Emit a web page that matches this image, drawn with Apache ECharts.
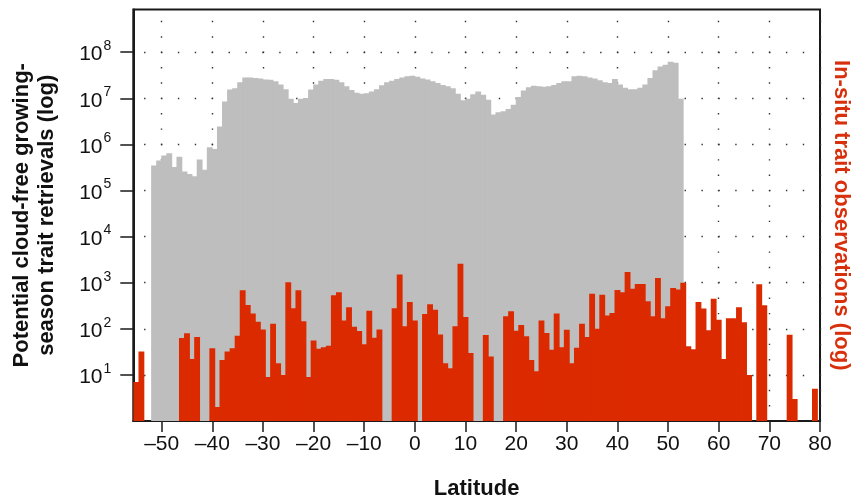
<!DOCTYPE html>
<html><head><meta charset="utf-8">
<script src="https://cdn.jsdelivr.net/npm/echarts@6/dist/echarts.min.js"></script>
<style>html,body{margin:0;padding:0;background:#fff}#c{width:852px;height:499px}</style>
</head><body><div id="c"></div>
<script>
// Potential cloud-free retrievals: 1-degree bins, lower edge latitude
const grayLat = [-52,-51,-50,-49,-48,-47,-46,-45,-44,-43,-42,-41,-40,-39,-38,-37,-36,-35,-34,-33,-32,-31,-30,-29,-28,-27,-26,-25,-24,-23,-22,-21,-20,-19,-18,-17,-16,-15,-14,-13,-12,-11,-10,-9,-8,-7,-6,-5,-4,-3,-2,-1,0,1,2,3,4,5,6,7,8,9,10,11,12,13,14,15,16,17,18,19,20,21,22,23,24,25,26,27,28,29,30,31,32,33,34,35,36,37,38,39,40,41,42,43,44,45,46,47,48,49,50,51,52];
const grayCount = [347000,447000,575000,646000,324000,537000,257000,229000,204000,468000,282000,871000,794000,2450000,8510000,15500000,16600000,22400000,28200000,28200000,27500000,26900000,25700000,25100000,23400000,20000000,15800000,9800000,7900000,9800000,10200000,15500000,20000000,24000000,26300000,26300000,25100000,22400000,18200000,15100000,13200000,12600000,12900000,14100000,15800000,19100000,22400000,24000000,26300000,28200000,30200000,30900000,
29500000,26900000,25700000,23400000,21400000,19500000,18200000,16600000,12600000,9100000,9800000,12300000,14100000,12000000,9300000,4470000,5010000,5250000,5890000,7240000,10700000,14800000,17400000,18600000,18200000,17800000,18200000,19500000,21400000,23400000,23400000,30200000,30900000,30200000,28200000,26900000,24500000,22400000,21400000,26300000,20000000,17000000,15800000,15800000,17000000,20000000,27500000,40700000,49000000,53700000,61700000,58900000,9800000];
// In-situ observations: 1-degree bins, centre latitude (null = none)
const redLat = [];
for (let l = -55; l <= 79; l++) redLat.push(l);
const redCount = [7,32,null,null,null,null,null,null,null,63,80,22,66,null,null,38,2,21,32,38,71,683,328,216,143,96,9,129,18,10,1018,278,683,145,9,56,37,40,43,532,617,152,292,111,90,46,247,64,97,null,null,278,1515,113,380,
152,null,210,339,260,75,18,14,113,2570,180,30,null,null,73,25,null,null,186,240,91,121,69,21,12,152,81,35,214,40,95,18,39,129,66,575,100,550,195,219,692,617,1700,741,933,933,398,186,1259,170,309,767,708,1000,42,36,380,275,93,447,158,22,170,170,295,138,10,null,923,324,null,null,null,null,74,3,null,null,null,5];
const xTicks = [-50,-40,-30,-20,-10,0,10,20,30,40,50,60,70,80];
const yTicks = [10,100,1000,10000,100000,1000000,10000000,100000000];

const FONT = "'Liberation Sans', Arial, Helvetica, sans-serif";
const GRAY = '#bebebe';
const RED = '#dc2a00';

const grayData = grayLat.map((l, i) => [l, grayCount[i]]);
const redData = [];
redLat.forEach((l, i) => { if (redCount[i] != null) redData.push([l, redCount[i]]); });

function binRender(offL, offR, color) {
  return function (params, api) {
    const x = api.value(0), v = api.value(1);
    const p0 = api.coord([x + offL, 1]);
    const p1 = api.coord([x + offR, v]);
    return {
      type: 'rect',
      shape: { x: p0[0] - 0.4, y: p1[1], width: p1[0] - p0[0] + 0.8, height: p0[1] - p1[1] },
      style: { fill: color }
    };
  };
}

const chart = echarts.init(document.getElementById('c'));
chart.setOption({
  animation: false,
  backgroundColor: '#fff',
  grid: { left: 133.3, right: 32, top: 9.5, bottom: 78, containLabel: false, outerBoundsMode: 'none',
    show: true, borderColor: '#1a1a1a', borderWidth: 2, backgroundColor: 'transparent' },
  xAxis: {
    type: 'value', min: -55.6, max: 80,
    name: 'Latitude', nameLocation: 'middle', nameGap: 57,
    nameTextStyle: { fontFamily: FONT, fontWeight: 'bold', fontSize: 22, color: '#111' },
    axisLine: { show: true, onZero: false, lineStyle: { color: '#1a1a1a', width: 2 } },
    axisTick: { show: true, length: 11, customValues: xTicks, lineStyle: { color: '#1a1a1a', width: 1.5 } },
    axisLabel: { customValues: xTicks, margin: 13, fontFamily: FONT, fontSize: 21, color: '#111',
      formatter: v => (v < 0 ? '\u2013' + Math.abs(v) : String(v)) },
    splitLine: { show: true, lineStyle: { color: '#333', width: 1.4, type: [1.4, 13.97], dashOffset: 4.0 } }
  },
  yAxis: [{
    type: 'log', logBase: 10, min: 1, max: Math.pow(10, 8.926),
    name: 'Potential cloud-free growing-\nseason trait retrievals (log)', nameLocation: 'middle', nameGap: 74,
    nameTextStyle: { fontFamily: FONT, fontWeight: 'bold', fontSize: 22, color: '#111', lineHeight: 25 },
    axisLine: { show: true, onZero: false, lineStyle: { color: '#1a1a1a', width: 2 } },
    axisTick: { show: true, length: 13, customValues: yTicks, lineStyle: { color: '#1a1a1a', width: 1.5 } },
    axisLabel: {
      customValues: yTicks,
      margin: 22, fontFamily: FONT, color: '#111',
      formatter: v => {
        const e = Math.log10(v);
        if (Math.abs(e - Math.round(e)) > 1e-6 || Math.round(e) < 1) return '';
        return '{b|10}{s|' + Math.round(e) + '}';
      },
      rich: {
        b: { fontFamily: FONT, fontSize: 21, color: '#111', verticalAlign: 'bottom', lineHeight: 26 },
        s: { fontFamily: FONT, fontSize: 14, color: '#111', verticalAlign: 'top', lineHeight: 26, padding: [0, 0, 0, 1] }
      }
    },
    splitLine: { show: true, lineStyle: { color: '#333', width: 1.4, type: [1.4, 15.49], dashOffset: 6.1 } }
  }, {
    type: 'log', logBase: 10, min: 1, max: Math.pow(10, 8.926), position: 'right',
    name: 'In-situ trait observations (log)', nameLocation: 'middle', nameGap: 10, nameRotate: -90,
    nameTextStyle: { fontFamily: FONT, fontWeight: 'bold', fontSize: 22, color: '#d8300c' },
    axisLine: { show: false, onZero: false }, axisTick: { show: false }, axisLabel: { show: false }, splitLine: { show: false }
  }],
  series: [
    { type: 'custom', name: 'retrievals', data: grayData, renderItem: binRender(0, 1, GRAY), clip: true, z: 2 },
    { type: 'custom', name: 'observations', data: redData, renderItem: binRender(-0.5, 0.5, RED), clip: true, z: 3 }
  ]
});
</script>
</body></html>
